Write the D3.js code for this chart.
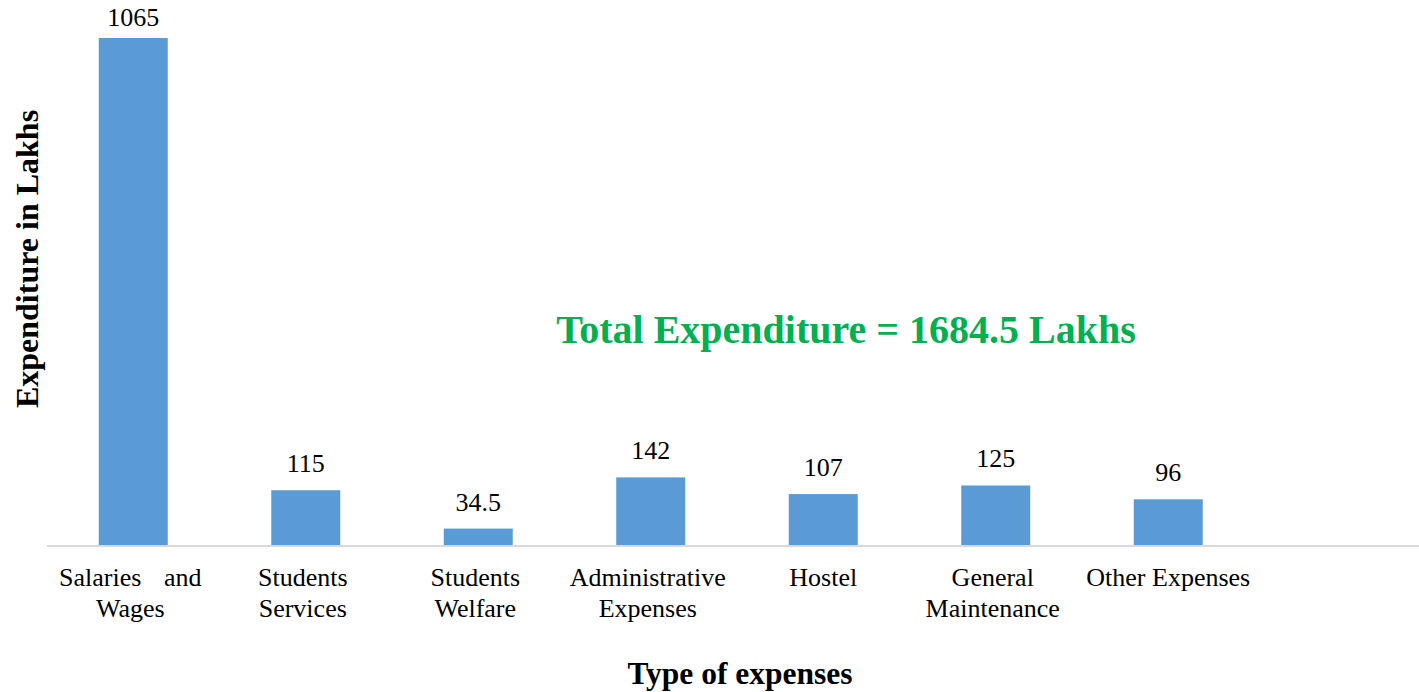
<!DOCTYPE html>
<html>
<head>
<meta charset="utf-8">
<script src="https://cdn.jsdelivr.net/npm/d3@7"></script>
<style>
  body { margin: 0; background: #fff; }
  text { font-family: "Liberation Serif", "Times New Roman", serif; }
</style>
</head>
<body>
<svg id="chart"></svg>
<script>
// data
const categories = ["Salaries and Wages", "Students Services", "Students Welfare",
    "Administrative Expenses", "Hostel", "General Maintenance", "Other Expenses"];
const tickLines = [["Salaries and", "Wages"], ["Students", "Services"], ["Students", "Welfare"],
    ["Administrative", "Expenses"], ["Hostel"], ["General", "Maintenance"], ["Other Expenses"]];
const values = [1065, 115, 34.5, 142, 107, 125, 96];
const valueLabels = ["1065", "115", "34.5", "142", "107", "125", "96"];
const totalText = "Total Expenditure = 1684.5 Lakhs";

const W = 1419, H = 692;
const baseY = 545;

const svg = d3.select("#chart").attr("width", W).attr("height", H);

const x = d3.scaleBand()
    .domain(categories)
    .range([47, 47 + 7 * 172.5])
    .paddingInner(0.6)
    .paddingOuter(0.3);

const y = d3.scaleLinear()
    .domain([0, 1065])
    .range([baseY, 38]);

// bars
svg.selectAll(".bar")
    .data(values)
    .enter().append("rect")
    .attr("class", "bar")
    .attr("x", (d, i) => x(categories[i]))
    .attr("y", d => y(d))
    .attr("width", x.bandwidth())
    .attr("height", d => baseY - y(d))
    .attr("fill", "#5B9BD5");

// value labels
svg.selectAll(".val")
    .data(values)
    .enter().append("text")
    .attr("class", "val")
    .attr("x", (d, i) => x(categories[i]) + x.bandwidth() / 2)
    .attr("y", d => Math.max(y(d) - 18, 26))
    .attr("text-anchor", "middle")
    .style("font-size", "26px")
    .attr("fill", "#000")
    .text((d, i) => valueLabels[i]);

// x axis line
svg.append("line")
    .attr("x1", 47).attr("x2", W)
    .attr("y1", baseY + 1).attr("y2", baseY + 1)
    .attr("stroke", "#D9D9D9")
    .attr("stroke-width", 2);

// category labels
const ticks = svg.selectAll(".tick-label")
    .data(categories)
    .enter().append("text")
    .attr("class", "tick-label")
    .attr("text-anchor", "middle")
    .style("font-size", "26px")
    .attr("fill", "#000");

ticks.each(function (d, i) {
    const cx = x(d) + x.bandwidth() / 2 - (tickLines[i].length > 1 ? 3 : 0);
    tickLines[i].forEach((line, j) => {
        d3.select(this).append("tspan")
            .attr("x", cx)
            .attr("y", 586 + j * 31)
            .style("word-spacing", i === 0 && j === 0 ? "16px" : null)
            .text(line);
    });
});

// total annotation
svg.append("text")
    .attr("x", 846)
    .attr("y", 343)
    .attr("text-anchor", "middle")
    .style("font-size", "40px")
    .style("font-weight", "bold")
    .attr("fill", "#00B050")
    .text(totalText);

// axis titles
svg.append("text")
    .attr("x", 740)
    .attr("y", 684)
    .attr("text-anchor", "middle")
    .style("font-size", "31.5px")
    .style("font-weight", "bold")
    .text("Type of expenses");

svg.append("text")
    .attr("transform", "translate(38,259) rotate(-90)")
    .attr("text-anchor", "middle")
    .style("font-size", "32px")
    .style("font-weight", "bold")
    .text("Expenditure in Lakhs");
</script>
</body>
</html>
